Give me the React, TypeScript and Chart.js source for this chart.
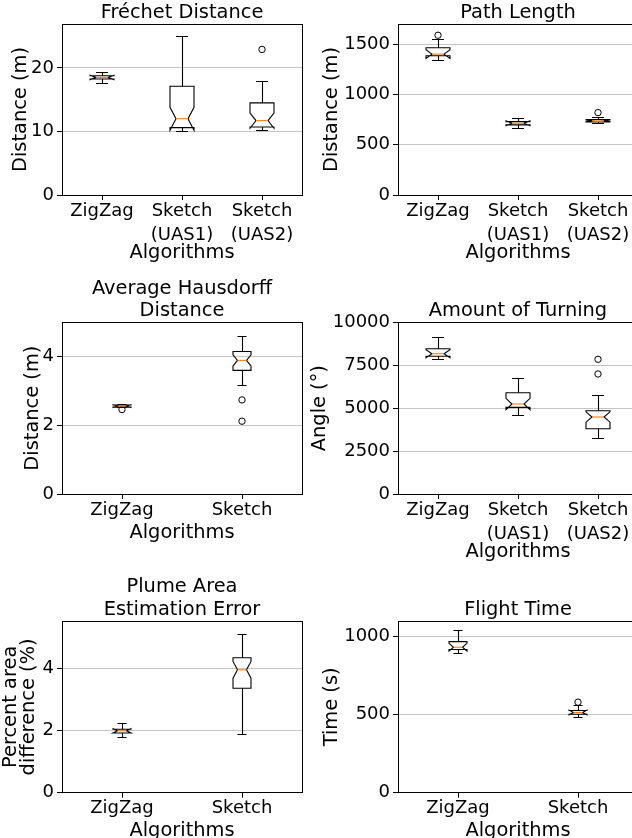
import React, { useEffect, useRef } from "react";
import { Chart, registerables } from "chart.js";

Chart.register(...registerables);
Chart.defaults.font.family = "'DejaVu Sans', sans-serif";
Chart.defaults.color = "#000";

// ---------- Fréchet Distance ----------
const frechetCategories = [["ZigZag"], ["Sketch", "(UAS1)"], ["Sketch", "(UAS2)"]];
const frechetWhiskerLow = [17.5, 10.0, 10.2];
const frechetQ1 = [18.25, 10.6, 10.7];
const frechetNotchLow = [18.15, 10.2, 10.5];
const frechetMedian = [18.5, 12.0, 11.7];
const frechetNotchHigh = [18.85, 13.8, 12.9];
const frechetQ3 = [18.75, 17.1, 14.5];
const frechetWhiskerHigh = [19.3, 25.0, 17.85];
const frechetOutliers = [[], [], [22.9]];
const frechetTicks = [0, 10, 20];

// ---------- Path Length ----------
const pathCategories = [["ZigZag"], ["Sketch", "(UAS1)"], ["Sketch", "(UAS2)"]];
const pathWhiskerLow = [1342, 661, 708];
const pathQ1 = [1386, 698, 726];
const pathNotchLow = [1359, 689, 729];
const pathMedian = [1402, 714, 738];
const pathNotchHigh = [1445, 739, 747];
const pathQ3 = [1466, 730, 752];
const pathWhiskerHigh = [1550, 761, 775];
const pathOutliers = [[1590], [], [820]];
const pathTicks = [0, 500, 1000, 1500];

// ---------- Average Hausdorff Distance ----------
const hausCategories = [["ZigZag"], ["Sketch"]];
const hausWhiskerLow = [2.51, 3.15];
const hausQ1 = [2.53, 3.6];
const hausNotchLow = [2.52, 3.73];
const hausMedian = [2.56, 3.89];
const hausNotchHigh = [2.6, 4.05];
const hausQ3 = [2.59, 4.15];
const hausWhiskerHigh = [2.62, 4.59];
const hausOutliers = [[2.46], [2.74, 2.12]];
const hausTicks = [0, 2, 4];

// ---------- Amount of Turning ----------
const turnCategories = [["ZigZag"], ["Sketch", "(UAS1)"], ["Sketch", "(UAS2)"]];
const turnWhiskerLow = [7845, 4601, 3244];
const turnQ1 = [8019, 5048, 3803];
const turnNotchLow = [7940, 4910, 4185];
const turnMedian = [8171, 5242, 4485];
const turnNotchHigh = [8400, 5574, 4785];
const turnQ3 = [8462, 5900, 4851];
const turnWhiskerHigh = [9104, 6698, 5725];
const turnOutliers = [[], [], [7845, 6989]];
const turnTicks = [0, 2500, 5000, 7500, 10000];

// ---------- Plume Area Estimation Error ----------
const plumeCategories = [["ZigZag"], ["Sketch"]];
const plumeWhiskerLow = [1.79, 1.88];
const plumeQ1 = [1.92, 3.36];
const plumeNotchLow = [1.92, 3.68];
const plumeMedian = [1.99, 3.95];
const plumeNotchHigh = [2.06, 4.22];
const plumeQ3 = [2.04, 4.34];
const plumeWhiskerHigh = [2.22, 5.09];
const plumeOutliers = [[], []];
const plumeTicks = [0, 2, 4];

// ---------- Flight Time ----------
const flightCategories = [["ZigZag"], ["Sketch"]];
const flightWhiskerLow = [889, 480];
const flightQ1 = [917, 503];
const flightNotchLow = [907, 499];
const flightMedian = [932, 514];
const flightNotchHigh = [957, 529];
const flightQ3 = [968, 527];
const flightWhiskerHigh = [1042, 556];
const flightOutliers = [[], [580]];
const flightTicks = [0, 500, 1000];

type Stats = {
  categories: string[][];
  wLo: number[]; q1: number[]; nLo: number[]; med: number[]; nHi: number[]; q3: number[]; wHi: number[];
  outliers: number[][];
  ticks: number[];
  yMax: number;
};

type Panel = {
  title: string[];
  yLabel: string[];
  yLabelLineHeight: number;
  stats: Stats;
  boxWidth: number;
  left: number; top: number; width: number; height: number;
  axisWidth: number; padRight: number; padTop: number; axesBottom: number;
  xTitlePad: number; yTitlePad: number;
};

const LEFT_COL = { left: 0, width: 316, axisWidth: 62, padRight: 14 };
const RIGHT_COL = { left: 300, width: 360, axisWidth: 98, padRight: 22 };

const panels: Panel[] = [
  {
    title: ["Fréchet Distance"], yLabel: ["Distance (m)"], yLabelLineHeight: 1.2,
    stats: { categories: frechetCategories, wLo: frechetWhiskerLow, q1: frechetQ1, nLo: frechetNotchLow, med: frechetMedian, nHi: frechetNotchHigh, q3: frechetQ3, wHi: frechetWhiskerHigh, outliers: frechetOutliers, ticks: frechetTicks, yMax: 26.9 },
    boxWidth: 0.3, ...LEFT_COL, top: 0, height: 270, padTop: 1.6, axesBottom: 195, xTitlePad: 5, yTitlePad: 9.2,
  },
  {
    title: ["Path Length"], yLabel: ["Distance (m)"], yLabelLineHeight: 1.2,
    stats: { categories: pathCategories, wLo: pathWhiskerLow, q1: pathQ1, nLo: pathNotchLow, med: pathMedian, nHi: pathNotchHigh, q3: pathQ3, wHi: pathWhiskerHigh, outliers: pathOutliers, ticks: pathTicks, yMax: 1702 },
    boxWidth: 0.3, ...RIGHT_COL, top: 0, height: 270, padTop: 1.6, axesBottom: 195, xTitlePad: 5, yTitlePad: 20.2,
  },
  {
    title: ["Average Hausdorff", "Distance"], yLabel: ["Distance (m)"], yLabelLineHeight: 1.2,
    stats: { categories: hausCategories, wLo: hausWhiskerLow, q1: hausQ1, nLo: hausNotchLow, med: hausMedian, nHi: hausNotchHigh, q3: hausQ3, wHi: hausWhiskerHigh, outliers: hausOutliers, ticks: hausTicks, yMax: 5.0 },
    boxWidth: 0.15, ...LEFT_COL, top: 270, height: 300, padTop: 7.5, axesBottom: 224, xTitlePad: 25, yTitlePad: 20.9,
  },
  {
    title: ["Amount of Turning"], yLabel: ["Angle (°)"], yLabelLineHeight: 1.2,
    stats: { categories: turnCategories, wLo: turnWhiskerLow, q1: turnQ1, nLo: turnNotchLow, med: turnMedian, nHi: turnNotchHigh, q3: turnQ3, wHi: turnWhiskerHigh, outliers: turnOutliers, ticks: turnTicks, yMax: 10000 },
    boxWidth: 0.3, ...RIGHT_COL, top: 270, height: 300, padTop: 29.9, axesBottom: 224, xTitlePad: 6, yTitlePad: 8.2,
  },
  {
    title: ["Plume Area", "Estimation Error"], yLabel: ["Percent area", "difference (%)"], yLabelLineHeight: 0.93,
    stats: { categories: plumeCategories, wLo: plumeWhiskerLow, q1: plumeQ1, nLo: plumeNotchLow, med: plumeMedian, nHi: plumeNotchHigh, q3: plumeQ3, wHi: plumeWhiskerHigh, outliers: plumeOutliers, ticks: plumeTicks, yMax: 5.52 },
    boxWidth: 0.15, ...LEFT_COL, top: 570, height: 290, padTop: 6.2, axesBottom: 222.7, xTitlePad: 17, yTitlePad: 1.5,
  },
  {
    title: ["Flight Time"], yLabel: ["Time (s)"], yLabelLineHeight: 1.2,
    stats: { categories: flightCategories, wLo: flightWhiskerLow, q1: flightQ1, nLo: flightNotchLow, med: flightMedian, nHi: flightNotchHigh, q3: flightQ3, wHi: flightWhiskerHigh, outliers: flightOutliers, ticks: flightTicks, yMax: 1100 },
    boxWidth: 0.15, ...RIGHT_COL, top: 570, height: 290, padTop: 28.6, axesBottom: 222.7, xTitlePad: 17, yTitlePad: 20.2,
  },
];

const align = (v: number) => Math.round(v - 0.5) + 0.5;

function buildConfig(p: Panel): any {
  const s = p.stats;
  const n = s.categories.length;
  const positions = s.categories.map((_, i) => i + 1);
  const outlierPoints = s.outliers.flatMap((arr, i) => arr.map((v) => ({ x: i + 1, y: v })));

  const boxPlugin = {
    id: "notchedBoxes",
    afterDatasetsDraw(chart: any) {
      const { ctx, chartArea, scales } = chart;
      const x = scales.x;
      const y = scales.y;
      const Y = (v: number) => y.getPixelForValue(v);
      ctx.save();
      ctx.lineWidth = 1.1;
      ctx.lineJoin = "miter";
      positions.forEach((pos, i) => {
        const cx = x.getPixelForValue(pos);
        const hw = Math.abs(x.getPixelForValue(pos + p.boxWidth / 2) - cx);
        const L = cx - hw, R = cx + hw, nl = cx - hw / 2, nr = cx + hw / 2;
        ctx.strokeStyle = "#000";
        ctx.beginPath();
        ctx.moveTo(align(cx), Y(s.q1[i]));
        ctx.lineTo(align(cx), Y(s.wLo[i]));
        ctx.moveTo(align(cx), Y(s.q3[i]));
        ctx.lineTo(align(cx), Y(s.wHi[i]));
        ctx.moveTo(nl, align(Y(s.wLo[i])));
        ctx.lineTo(nr, align(Y(s.wLo[i])));
        ctx.moveTo(nl, align(Y(s.wHi[i])));
        ctx.lineTo(nr, align(Y(s.wHi[i])));
        ctx.stroke();
        ctx.beginPath();
        ctx.moveTo(L, Y(s.q1[i]));
        ctx.lineTo(R, Y(s.q1[i]));
        ctx.lineTo(R, Y(s.nLo[i]));
        ctx.lineTo(nr, Y(s.med[i]));
        ctx.lineTo(R, Y(s.nHi[i]));
        ctx.lineTo(R, Y(s.q3[i]));
        ctx.lineTo(L, Y(s.q3[i]));
        ctx.lineTo(L, Y(s.nHi[i]));
        ctx.lineTo(nl, Y(s.med[i]));
        ctx.lineTo(L, Y(s.nLo[i]));
        ctx.closePath();
        ctx.stroke();
        ctx.strokeStyle = "#ff7f0e";
        ctx.beginPath();
        ctx.moveTo(nl, Y(s.med[i]));
        ctx.lineTo(nr, Y(s.med[i]));
        ctx.stroke();
      });
      ctx.strokeStyle = "#000";
      ctx.lineWidth = 1;
      const l = align(chartArea.left), r = align(chartArea.right);
      const t = align(chartArea.top), b = align(chartArea.bottom);
      ctx.strokeRect(l, t, r - l, b - t);
      ctx.restore();
    },
  };

  return {
    type: "scatter",
    data: {
      datasets: [
        {
          data: outlierPoints,
          showLine: false,
          pointStyle: "circle",
          pointRadius: 3.2,
          pointBorderWidth: 1,
          pointBorderColor: "#000",
          pointBackgroundColor: "rgba(0,0,0,0)",
        },
      ],
    },
    plugins: [boxPlugin],
    options: {
      responsive: false,
      maintainAspectRatio: false,
      animation: false,
      devicePixelRatio: 1,
      events: [],
      layout: { padding: { top: p.padTop, right: p.padRight, left: 0, bottom: 0 } },
      plugins: {
        legend: { display: false },
        tooltip: { enabled: false },
        title: {
          display: true,
          text: p.title,
          fullSize: false,
          color: "#000",
          padding: 0,
          font: { size: 19.4, weight: "normal", lineHeight: 22.4 / 19.4 },
        },
      },
      scales: {
        x: {
          type: "linear",
          min: 0.5,
          max: n + 0.5,
          afterBuildTicks: (scale: any) => {
            scale.ticks = positions.map((v) => ({ value: v }));
          },
          afterFit: (scale: any) => {
            scale.height = p.height - p.axesBottom;
          },
          border: { display: false },
          grid: {
            display: true,
            drawOnChartArea: false,
            drawTicks: true,
            tickLength: 5,
            tickColor: "#000",
            tickWidth: 1,
          },
          ticks: {
            autoSkip: false,
            maxRotation: 0,
            minRotation: 0,
            padding: -1,
            color: "#000",
            font: { size: 18, lineHeight: 1.333 },
            callback: (_v: any, index: number) => s.categories[index],
          },
          title: {
            display: true,
            text: "Algorithms",
            color: "#000",
            font: { size: 19.4, lineHeight: 1.2 },
            padding: { top: 0, bottom: p.xTitlePad },
          },
        },
        y: {
          type: "linear",
          min: 0,
          max: s.yMax,
          afterBuildTicks: (scale: any) => {
            scale.ticks = s.ticks.map((v) => ({ value: v }));
          },
          afterFit: (scale: any) => {
            scale.width = p.axisWidth;
          },
          border: { display: false },
          grid: {
            display: true,
            drawTicks: true,
            tickLength: 5,
            tickColor: "#000",
            tickWidth: 1,
            lineWidth: 1,
            color: (c: any) => (c.tick && c.tick.value === 0 ? "rgba(0,0,0,0)" : "#c4c4c4"),
          },
          ticks: {
            padding: 3,
            color: "#000",
            font: { size: 18 },
            callback: (v: any) => String(v),
          },
          title: {
            display: true,
            text: p.yLabel,
            color: "#000",
            font: { size: 19.4, lineHeight: p.yLabelLineHeight },
            padding: { top: p.yTitlePad, bottom: 0 },
          },
        },
      },
    },
  };
}

function PanelChart({ p }: { p: Panel }) {
  const ref = useRef<HTMLCanvasElement | null>(null);
  useEffect(() => {
    if (!ref.current) return;
    const chart = new Chart(ref.current, buildConfig(p));
    return () => chart.destroy();
  }, [p]);
  return (
    <canvas
      ref={ref}
      width={p.width}
      height={p.height}
      style={{ position: "absolute", left: p.left, top: p.top, width: p.width, height: p.height }}
    />
  );
}

export default function App() {
  return (
    <div
      style={{
        position: "fixed",
        left: 0,
        top: 0,
        width: 632,
        height: 838,
        overflow: "hidden",
        background: "#fff",
      }}
    >
      {panels.map((p, i) => (
        <PanelChart key={i} p={p} />
      ))}
    </div>
  );
}
